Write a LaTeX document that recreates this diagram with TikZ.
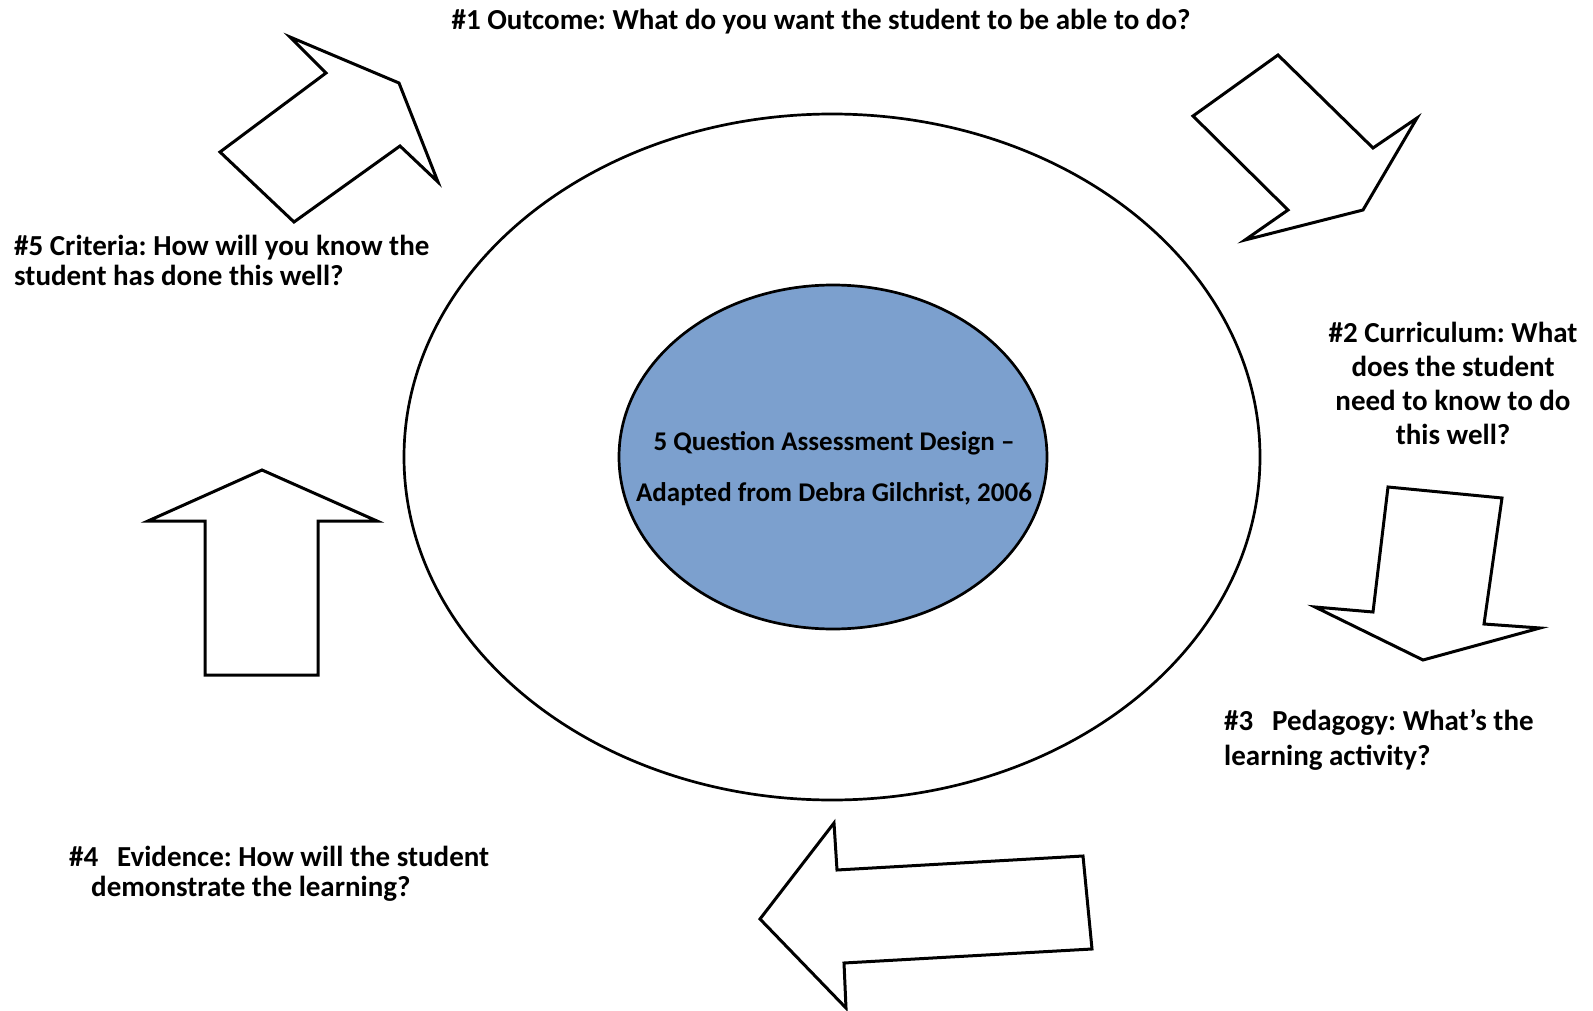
\documentclass[tikz,border=0pt]{standalone}
\usepackage{fontspec}
\setmainfont{Carlito}
\frenchspacing
\definecolor{discblue}{RGB}{124,160,206}

\begin{document}
\begin{tikzpicture}
	[
		x=1pt, y=-1pt,
		% Outline for the block arrows.
		blockarrow/.style={draw=black, line width=3pt, line join=miter, fill=white},
		% And one for the question texts.
		question/.style={inner sep=0pt, font=\bfseries\fontsize{29}{30}\selectfont}
	]
		\useasboundingbox (0,0) rectangle (1593,1011);
		
		% Rings in the middle
		\draw[line width=2.7pt] (832,457) ellipse [x radius=428, y radius=343];
		\draw[line width=2.7pt, fill=discblue] (833,457) ellipse [x radius=214, y radius=172];
		\node[question, align=center, font=\bfseries\fontsize{27}{51}\selectfont] (title) at (834,469)
			{5 Question Assessment Design --\\Adapted from Debra Gilchrist, 2006};
		
		% Question texts
		\node[question] (q1) at (821,22) {\#1 Outcome: What do you want the student to be able to do?};
		\node[question, align=center, font=\bfseries\fontsize{29}{34}\selectfont] (q2) at (1453,383)
			{\#2 Curriculum: What\\does the student\\need to know to do\\this well?};
		\node[question, anchor=west, align=left, font=\bfseries\fontsize{29}{35}\selectfont] (q3) at (1224,740)
			{\#3\hspace{0.65em}Pedagogy: What’s the\\learning activity?};
		\node[question, anchor=west, align=left] (q4) at (69,874)
			{\#4\hspace{0.65em}Evidence: How will the student\\\hspace*{22pt}demonstrate the learning?};
		\node[question, anchor=west, align=left] (q5) at (14,260)
			{\#5 Criteria: How will you know the\\student has done this well?};
		
		% Block arrows round the ring
		\draw[blockarrow] (1278,55) -- (1373,148) -- (1417,118) -- (1363,210)
			-- (1245,240) -- (1288,210) -- (1193,116) -- cycle;
		\draw[blockarrow] (1388,487) -- (1502,498) -- (1484,624) -- (1540,628)
			-- (1423,660) -- (1315,607) -- (1373,612) -- cycle;
		\draw[blockarrow] (834,823) -- (837,870) -- (1083,856) -- (1092,949)
			-- (844,963) -- (846,1008) -- (760,919) -- cycle;
		\draw[blockarrow] (262,470) -- (377,521) -- (318,521) -- (318,675)
			-- (205,675) -- (205,521) -- (148,521) -- cycle;
		\draw[blockarrow] (290,37) -- (399,83) -- (438,182) -- (400,146)
			-- (294,222) -- (220,152) -- (326,73) -- cycle;
	\end{tikzpicture}
\end{document}
